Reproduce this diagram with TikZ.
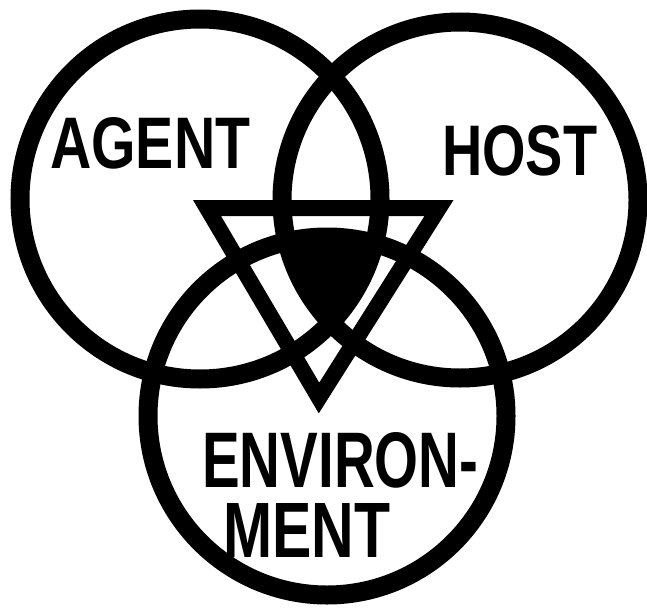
\documentclass[tikz,border=0pt]{standalone}
\usepackage{fontspec}
\setmainfont{Liberation Sans}
\usepackage{graphicx}
\begin{document}
\begin{tikzpicture}[x=1pt,y=-1pt,
  ring/.style={line width=19pt},
  tri/.style={line width=16pt, line join=miter},
  lbl/.style={inner sep=0pt, anchor=north west, font=\bfseries}]
\useasboundingbox (0,0) rectangle (647,607);
\coordinate (cA) at (200,199);
\coordinate (cH) at (460,200);
\coordinate (cE) at (327,416);
\coordinate (t1) at (207,208);
\coordinate (t2) at (439,208);
\coordinate (t3) at (319,398);
% triple overlap inside the triangle
\begin{scope}
  \clip (t1) -- (t2) -- (t3) -- cycle;
  \clip (cA) circle[radius=180pt];
  \clip (cH) circle[radius=178pt];
  \fill (cE) circle[radius=179pt];
\end{scope}
\draw[ring] (cA) circle[radius=180pt];
\draw[ring] (cH) circle[radius=178pt];
\draw[ring] (cE) circle[radius=179pt];
\draw[tri] (t1) -- (t2) -- (t3) -- cycle;
\node[lbl] (agent) at (50,117) {\resizebox{200pt}{51pt}{AGENT}};
\node[lbl] (host) at (442,125) {\resizebox{155pt}{50pt}{HOST}};
\node[lbl] (env) at (202,432) {\resizebox{276pt}{55pt}{ENVIRON-}};
\node[lbl] (ment) at (223,503) {\resizebox{167pt}{54pt}{MENT}};
\end{tikzpicture}
\end{document}
